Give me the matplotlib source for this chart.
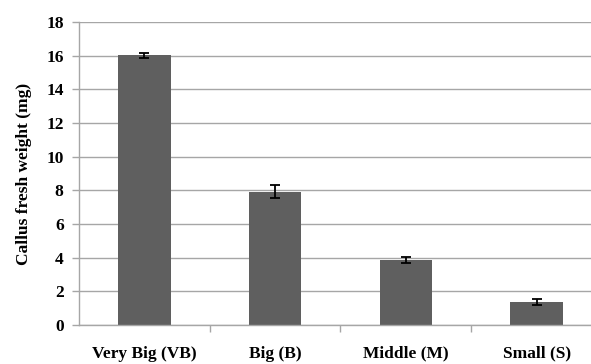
import matplotlib.pyplot as plt
import numpy as np

plt.rcParams["font.family"] = ["Liberation Serif", "DejaVu Serif"]
plt.rcParams["font.weight"] = "bold"

categories = ["Very Big (VB)", "Big (B)", "Middle (M)", "Small (S)"]
fresh_weight = [16.02, 7.93, 3.85, 1.36]
errors = [0.13, 0.36, 0.16, 0.19]

GRID_COLOR = "#a6a6a6"
BAR_COLOR = "#5f5f5f"
FS = 12.5

fig = plt.figure(figsize=(5.91, 3.64), dpi=100)
# plot area runs past the right edge of the picture, as in the cropped original
ax = fig.add_axes([79 / 591, 39 / 364, 523 / 591, 303 / 364])

x = np.arange(len(categories))
ax.bar(x, fresh_weight, width=0.4, color=BAR_COLOR, zorder=2)
ax.errorbar(
    x, fresh_weight, yerr=errors, fmt="none", ecolor="black",
    elinewidth=1.3, capsize=3.5, capthick=1.3, zorder=3,
)

ax.set_xlim(-0.5, 3.5)
ax.set_ylim(0, 18)
ax.set_yticks(np.arange(0, 19, 2))
ax.yaxis.grid(True, color=GRID_COLOR, linewidth=1.0, zorder=0)
ax.set_axisbelow(True)

ax.set_xticks(x)
ax.set_xticklabels(categories, fontsize=FS, fontweight="bold")
ax.set_xticks(np.arange(0.5, 3.5, 1.0), minor=True)
ax.tick_params(axis="x", which="major", length=0, pad=15)
ax.tick_params(axis="x", which="minor", length=5, color=GRID_COLOR, width=1.0)
ax.tick_params(axis="y", length=5, color=GRID_COLOR, width=1.0, labelsize=FS, pad=6)
for lab in ax.get_yticklabels():
    lab.set_fontweight("bold")

for side in ["top", "right"]:
    ax.spines[side].set_visible(False)
for side in ["left", "bottom"]:
    ax.spines[side].set_color(GRID_COLOR)
    ax.spines[side].set_linewidth(1.0)

ax.set_ylabel("Callus fresh weight (mg)", fontsize=FS, fontweight="bold", labelpad=10)

fig.savefig("out.png", dpi=100)
